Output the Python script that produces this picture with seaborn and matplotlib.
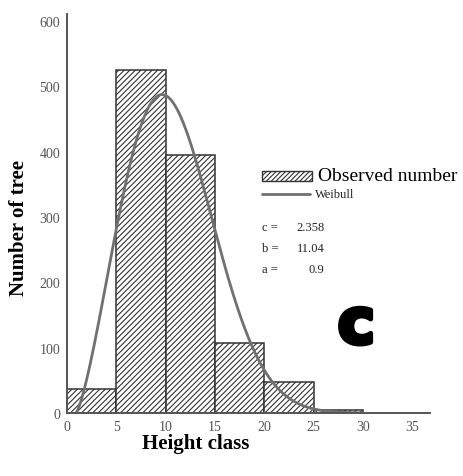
import numpy as np
import pandas as pd
import matplotlib
matplotlib.use("Agg")
import matplotlib.pyplot as plt
import matplotlib.patheffects as pe
from matplotlib.patches import Rectangle
from matplotlib.lines import Line2D
import seaborn as sns

# Height class edges (m) and observed tree counts per class
class_edges = [0, 5, 10, 15, 20, 25, 30]
observed_counts = [37, 525, 395, 107, 47, 5]

# Fitted three-parameter Weibull (shape c, scale b, location a)
weibull_c = 2.358
weibull_b = 11.04
weibull_a = 0.9

x_ticks = [0, 5, 10, 15, 20, 25, 30, 35]
y_ticks = [0, 100, 200, 300, 400, 500, 600]

mids = [(lo + hi) / 2 for lo, hi in zip(class_edges[:-1], class_edges[1:])]
df = pd.DataFrame({"height": mids, "count": observed_counts})

# Expected frequencies from the Weibull density scaled to total trees x class width
width = class_edges[1] - class_edges[0]
total = sum(observed_counts)
xs = np.linspace(weibull_a, 30, 300)
z = (xs - weibull_a) / weibull_b
pdf = (weibull_c / weibull_b) * z ** (weibull_c - 1) * np.exp(-z ** weibull_c)
curve = pd.DataFrame({"height": xs, "expected": total * width * pdf})

sns.set_style("white")
plt.rcParams["hatch.color"] = "#8c8c8c"
plt.rcParams["hatch.linewidth"] = 0.8
serif = ["Liberation Serif", "DejaVu Serif"]

fig = plt.figure(figsize=(4.64, 4.77), dpi=100)
ax = fig.add_axes([0.1444, 0.132, 0.7823, 0.8366])

sns.histplot(data=df, x="height", weights="count", bins=class_edges,
             color="white", alpha=1, edgecolor="#333333", linewidth=1.1, ax=ax)
for p in ax.patches:
    p.set_hatch("//////")

sns.lineplot(data=curve, x="height", y="expected", color="#707070",
             linewidth=2.0, ax=ax)

ax.set_xlim(0, 36.8)
ax.set_ylim(0, 611)
ax.set_xticks(x_ticks)
ax.set_yticks(y_ticks)
ax.set_xticklabels([str(t) for t in x_ticks], family=serif, fontsize=10, color="#555555")
ax.set_yticklabels([str(t) for t in y_ticks], family=serif, fontsize=10, color="#555555")
ax.tick_params(axis="both", direction="out", length=3, width=1, color="#555555", pad=2)

for side in ("top", "right"):
    ax.spines[side].set_visible(False)
for side in ("left", "bottom"):
    ax.spines[side].set_color("#555555")
    ax.spines[side].set_linewidth(1.4)

ax.set_xlabel("Height class", family=serif, fontsize=15, fontweight="bold", color="black")
ax.set_ylabel("Number of tree", family=serif, fontsize=15, fontweight="bold", color="black")
ax.xaxis.set_label_coords(0.355, -0.05)
ax.yaxis.set_label_coords(-0.105, 0.466)

# Key: hatched box for the observed counts, line for the Weibull fit
ax.add_patch(Rectangle((0.537, 0.581), 0.138, 0.026, transform=ax.transAxes,
                       facecolor="white", edgecolor="#333333", linewidth=1,
                       hatch="///////", clip_on=False))
ax.text(0.691, 0.594, "Observed number", transform=ax.transAxes,
        family=serif, fontsize=14, va="center", ha="left", color="black")
ax.add_line(Line2D([0.537, 0.669], [0.549, 0.549], transform=ax.transAxes,
                   color="#707070", linewidth=2.0))
ax.text(0.683, 0.549, "Weibull", transform=ax.transAxes,
        family=serif, fontsize=9, va="center", ha="left", color="#222222")

params = [("c =", f"{weibull_c:g}", 0.466),
          ("b =", f"{weibull_b:g}", 0.414),
          ("a =", f"{weibull_a:g}", 0.361)]
for name, val, yy in params:
    ax.text(0.537, yy, name, transform=ax.transAxes, family=serif,
            fontsize=9, va="center", ha="left", color="#222222")
    ax.text(0.710, yy, val, transform=ax.transAxes, family=serif,
            fontsize=9, va="center", ha="right", color="#222222")

ax.text(0.797, 0.175, "c", transform=ax.transAxes, family="DejaVu Sans",
        fontsize=45, fontweight="bold", va="baseline", ha="center", color="black",
        path_effects=[pe.withStroke(linewidth=3.5, foreground="black")])

fig.savefig("out.png", dpi=100)
